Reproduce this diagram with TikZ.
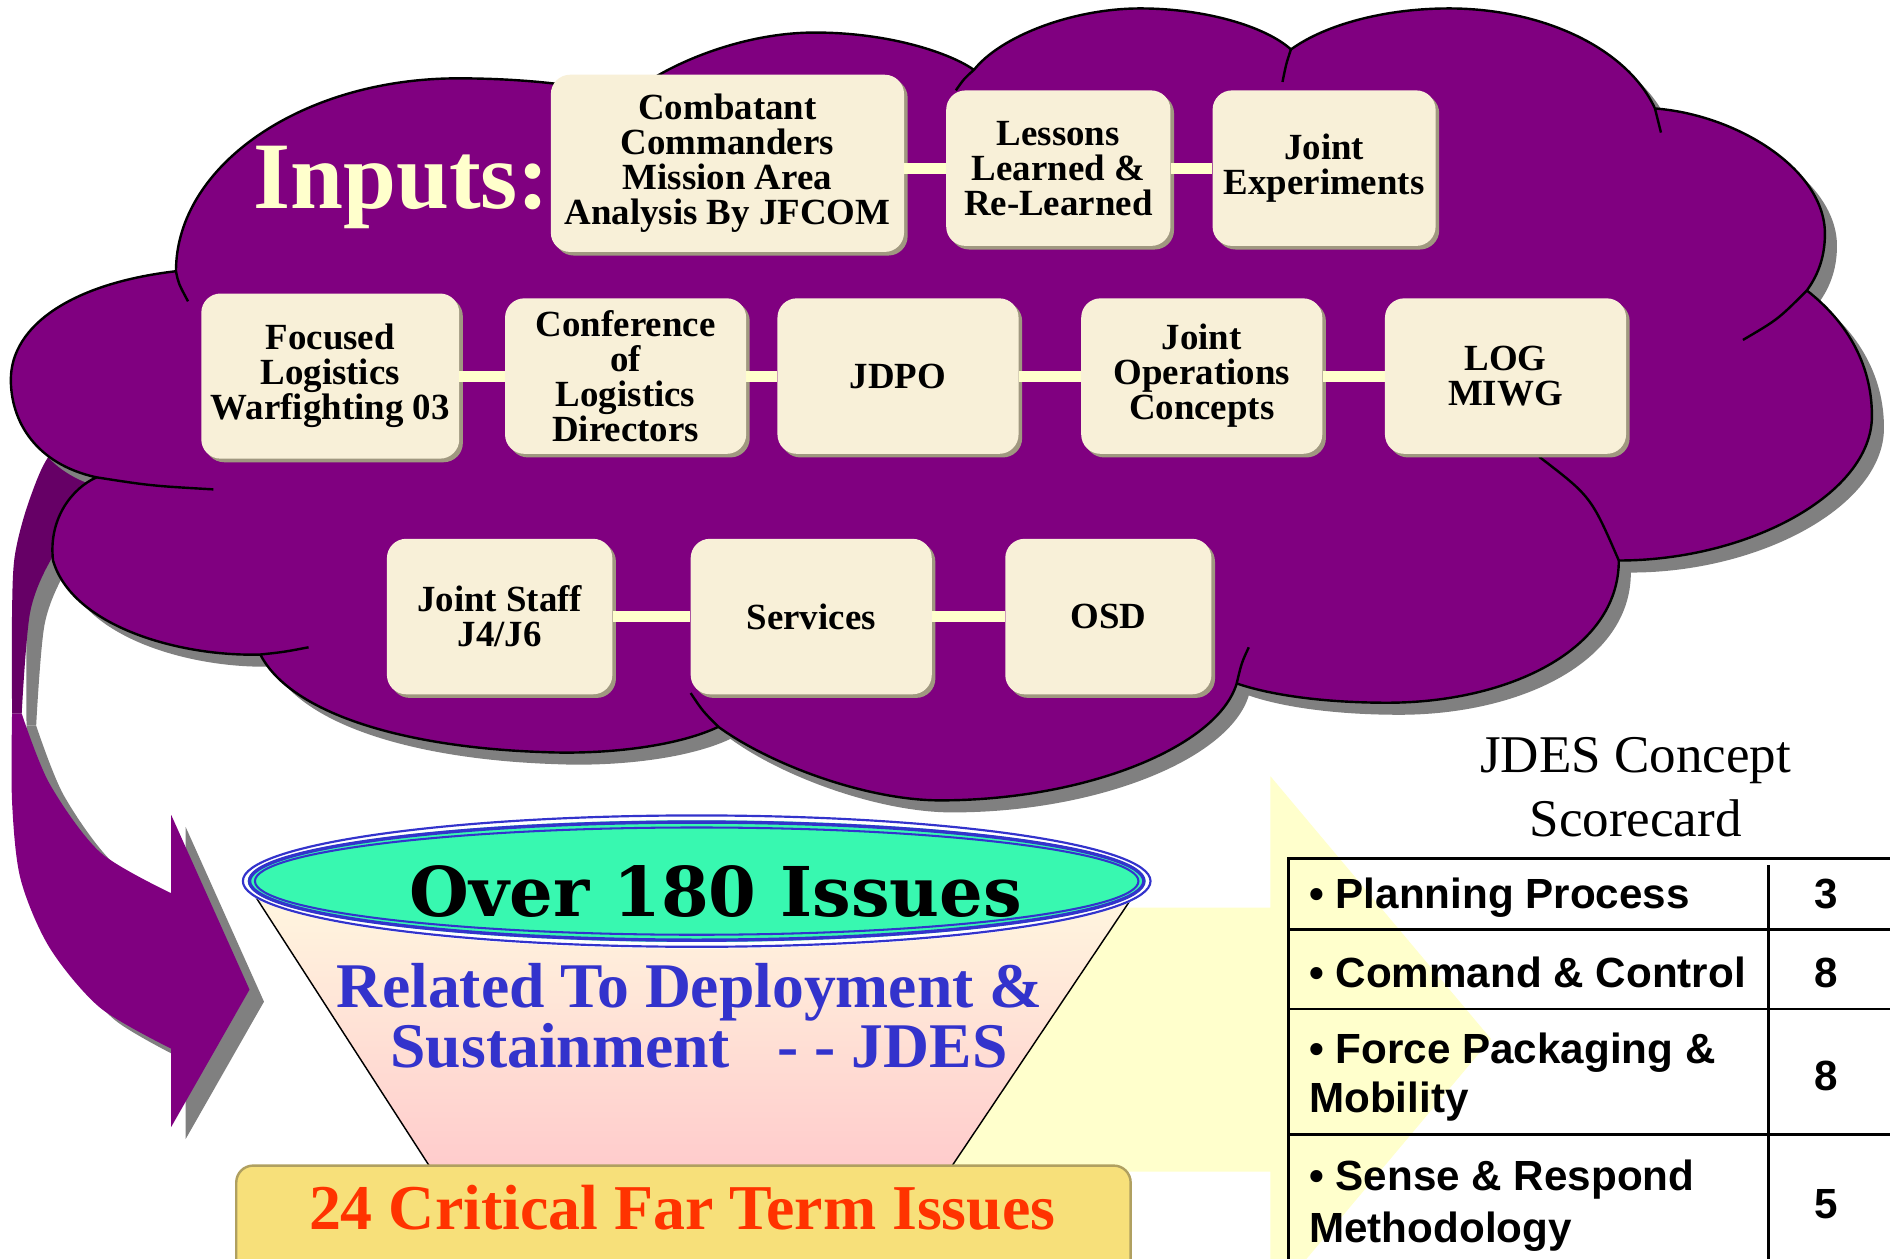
\documentclass[tikz,border=0pt]{standalone}
\usepackage{fontspec}
\usepackage{graphicx}
\setmainfont{Liberation Serif}
\newfontfamily\arialf{Liberation Sans}
\newfontfamily\widef{DejaVu Serif}
\usetikzlibrary{shapes.geometric,shadows}
\definecolor{cloudp}{HTML}{800080}
\definecolor{darkp}{HTML}{660066}
\definecolor{shadowg}{HTML}{808080}
\definecolor{cream}{HTML}{F8F0D8}
\definecolor{boxsh}{HTML}{A09880}
\definecolor{lightyel}{HTML}{FFFFCC}
\definecolor{issueblue}{HTML}{3333CC}
\definecolor{tealc}{HTML}{38F8B0}
\definecolor{goldc}{HTML}{F7E07A}
\definecolor{goldedge}{HTML}{B0A060}
\definecolor{redor}{HTML}{FF3300}
\definecolor{funtop}{HTML}{FFF8E0}
\definecolor{funbot}{HTML}{FFCCCC}

\newcommand\cloudoutline{(146,225)
 .. controls (146,137) and (251,65) .. (380,65)
 .. controls (440,65) and (495,72) .. (522,82)
 .. controls (528,68) and (600,27) .. (676,27)
 .. controls (740,27) and (790,45) .. (808,58)
 .. controls (830,30) and (890,7) .. (946,7)
 .. controls (1000,7) and (1050,22) .. (1071,41)
 .. controls (1100,20) and (1150,7) .. (1202,7)
 .. controls (1280,7) and (1350,40) .. (1373,90)
 .. controls (1440,95) and (1514,140) .. (1514,194)
 .. controls (1514,215) and (1507,230) .. (1499,241)
 .. controls (1530,265) and (1553,300) .. (1553,345)
 .. controls (1553,410) and (1450,465) .. (1343,465)
 .. controls (1343,540) and (1250,583) .. (1151,583)
 .. controls (1100,583) and (1055,577) .. (1026,567)
 .. controls (1010,620) and (900,664) .. (780,664)
 .. controls (720,664) and (640,635) .. (596,603)
 .. controls (560,620) and (500,626) .. (452,624)
 .. controls (330,620) and (240,590) .. (216,543)
 .. controls (150,545) and (60,520) .. (44,465)
 .. controls (40,430) and (60,405) .. (80,396)
 .. controls (30,385) and (9,350) .. (9,315)
 .. controls (9,270) and (60,235) .. (146,225) -- cycle}

\newcommand\arrowfront{plot[smooth] coordinates {(10,592) (10,665) (17,729) (41,786) (83,836) (142,870)}
 -- (142,935) -- (207,821) -- (142,676)
 -- plot[smooth] coordinates {(142,741) (83,707) (41,650) (18,592)} -- cycle}

\newcommand\arrowback{plot[smooth] coordinates {(10,592) (10,508) (12,463) (21,425) (36,386) (55,360) (80,345)}
 -- (130,360)
 -- plot[smooth] coordinates {(70,430) (43,463) (25,508) (18,592)} -- cycle}

\begin{document}
\begin{tikzpicture}[x=1pt,y=-1pt,
  ibox/.style={rectangle, rounded corners=16pt, fill=cream, inner sep=2pt, align=center,
    font=\bfseries\fontsize{30.6}{29}\selectfont,
    general shadow={fill=boxsh, shadow xshift=3pt, shadow yshift=-3pt}},
  conn/.style={draw=lightyel, line width=9pt},
  inner/.style={draw=black, line width=2pt},
  trow/.style={anchor=base west, inner sep=0pt, font=\arialf\bfseries\fontsize{35}{40}\selectfont},
  tnum/.style={inner sep=0pt, font=\arialf\bfseries\fontsize{35}{40}\selectfont},
  tline/.style={draw=black, line width=2.2pt},
  bluetext/.style={anchor=base, inner sep=0pt, text=issueblue, font=\bfseries\fontsize{52.8}{50}\selectfont},
  ttl/.style={anchor=base, inner sep=0pt, font=\fontsize{44}{52}\selectfont}]

\useasboundingbox (0,0) rectangle (1568,1044);
\clip (0,0) rectangle (1568,1044);
\fill[white] (0,0) rectangle (1568,1044);

% light yellow block arrow behind the funnel and the table
\fill[lightyel] (780,753) -- (1054,753) -- (1054,644) -- (1237,862) -- (1054,1080) -- (1054,972) -- (780,972) -- cycle;

% purple curved arrow
\begin{scope}[shift={(12,10)}]
  \fill[shadowg] \arrowfront;
  \fill[shadowg] \arrowback;
\end{scope}
\fill[darkp] \arrowback;
\fill[cloudp] \arrowfront;

% cloud
\begin{scope}[shift={(10,10)}]
  \fill[shadowg] \cloudoutline;
\end{scope}
\filldraw[fill=cloudp, draw=black, line width=2pt, line join=round] \cloudoutline;
\draw[inner] (146,225) .. controls (148,235) .. (156,250);
\draw[inner] (80,396) .. controls (125,403) .. (177,406);
\draw[inner] (216,543) .. controls (235,541) .. (256,537);
\draw[inner] (596,603) .. controls (583,590) .. (573,575);
\draw[inner] (1026,567) .. controls (1030,550) .. (1036,537);
\draw[inner] (1343,465) .. controls (1320,412) .. (1277,379);
\draw[inner] (1499,241) .. controls (1475,265) .. (1446,282);
\draw[inner] (1373,90) .. controls (1376,100) .. (1378,110);
\draw[inner] (1071,41) .. controls (1067,53) .. (1064,68);
\draw[inner] (808,58) .. controls (800,65) .. (793,75);

% Inputs label
\node[anchor=base west, inner sep=0pt, text=lightyel, font=\bfseries\fontsize{79}{80}\selectfont] (inputs) at (210,173) {Inputs:};

% input boxes
\node[ibox, minimum width=293, minimum height=147] (combat) at (603.5,135.5) {Combatant\\Commanders\\Mission Area\\Analysis By JFCOM};
\node[ibox, minimum width=186, minimum height=129] (lessons) at (878,139.5) {Lessons\\Learned \&\\Re-Learned};
\node[ibox, minimum width=185, minimum height=129] (jexp) at (1098.5,139.5) {Joint\\Experiments};

\node[ibox, minimum width=214, minimum height=137] (focused) at (274,312) {Focused\\Logistics\\Warfighting 03};
\node[ibox, minimum width=200, minimum height=129] (conf) at (519,312) {Conference\\of\\Logistics\\Directors};
\node[ibox, minimum width=200, minimum height=129] (jdpo) at (745,312) {JDPO};
\node[ibox, minimum width=200, minimum height=129] (joc) at (997,312) {Joint\\Operations\\Concepts};
\node[ibox, minimum width=200, minimum height=129] (logm) at (1249,312) {LOG\\MIWG};

\node[ibox, minimum width=187, minimum height=129] (jstaff) at (414.5,511.5) {Joint Staff\\J4/J6};
\node[ibox, minimum width=200, minimum height=129] (services) at (673,511.5) {Services};
\node[ibox, minimum width=171, minimum height=129] (osd) at (919.5,511.5) {OSD};

% connectors
\draw[conn] (combat.east |- lessons.west) -- (lessons.west);
\draw[conn] (lessons) -- (jexp);
\draw[conn] (focused) -- (conf);
\draw[conn] (conf) -- (jdpo);
\draw[conn] (jdpo) -- (joc);
\draw[conn] (joc) -- (logm);
\draw[conn] (jstaff) -- (services);
\draw[conn] (services) -- (osd);

% funnel
\shade[top color=funtop, bottom color=funbot] (205,733) -- (356,967) -- (790,967) -- (947,733) -- cycle;
\draw[black, line width=1.2pt] (205,733) -- (356,967);
\draw[black, line width=1.2pt] (947,733) -- (790,967);

% ellipse top of funnel
\fill[white] (578,731) ellipse [x radius=378, y radius=56];
\draw[issueblue, line width=1.8pt] (578,731) ellipse [x radius=376.5, y radius=54.5];
\fill[tealc] (578,731) ellipse [x radius=372.5, y radius=50.5];
\draw[issueblue, line width=2.8pt] (578,731) ellipse [x radius=371, y radius=49];
\draw[issueblue, line width=1.7pt] (578,731) ellipse [x radius=366.5, y radius=44.5];
\node[anchor=base, inner sep=0pt] (over) at (594,760) {\resizebox{508pt}{!}{\widef\bfseries Over 180 Issues}};

\node[bluetext] (rel1) at (572,836) {Related To Deployment \&};
\node[bluetext] (rel2) at (580,886) {Sustainment \ \ - - JDES};

% bottom gold box
\node[rectangle, rounded corners=14pt, fill=goldc, draw=goldedge, line width=2pt,
  minimum width=742, minimum height=110, anchor=north west] (farbox) at (195,966) {};
\node[anchor=base, inner sep=0pt, text=redor, font=\bfseries\fontsize{53}{54}\selectfont] (fartxt) at (566,1020) {24 Critical Far Term Issues};

% scorecard
\node[ttl] (title1) at (1357,641) {JDES Concept};
\node[ttl] (title2) at (1357,694) {Scorecard};

\draw[tline] (1069,1060) -- (1069,712) -- (1580,712);
\draw[tline] (1069,771) -- (1580,771);
\draw[tline] (1069,837) -- (1580,837);
\draw[tline] (1069,941) -- (1580,941);
\draw[tline] (1467,718) -- (1467,1060);

\node[trow] (r1) at (1086,754) {• Planning Process};
\node[trow] (r2) at (1086,819) {• Command \& Control};
\node[trow] (r3a) at (1086,882) {• Force Packaging \&};
\node[trow] (r3b) at (1086,923) {Mobility};
\node[trow] (r4a) at (1086,988) {• Sense \& Respond};
\node[trow] (r4b) at (1086,1031) {Methodology};

\node[tnum] (n1) at (1515,742) {3};
\node[tnum] (n2) at (1515,807) {8};
\node[tnum] (n3) at (1515,893) {8};
\node[tnum] (n4) at (1515,999) {5};
\end{tikzpicture}
\end{document}
